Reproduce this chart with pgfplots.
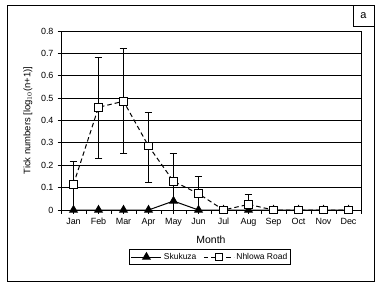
\documentclass[border=0pt]{standalone}
\usepackage{fontspec}
\setmainfont{Liberation Sans}
\usepackage{pgfplots}
\pgfplotsset{compat=1.18}
\begin{document}
\begin{tikzpicture}
\path[use as bounding box] (0bp,0bp) rectangle (383bp,-282bp);
\draw[line width=1bp] (7bp,-5bp) rectangle (374bp,-281bp);
\draw[line width=1bp] (353bp,-5bp) rectangle (374bp,-26bp);
\node[font=\fontsize{11}{13}\selectfont] at (363.5bp,-15.5bp) {a};
\begin{axis}[
  scale only axis, width=300bp, height=179bp,
  at={(61bp,-210bp)}, anchor=south west,
  xmin=-0.5, xmax=11.5, ymin=0, ymax=0.8,
  xtick={0,...,11},
  xticklabels={Jan,Feb,Mar,Apr,May,Jun,Jul,Aug,Sep,Oct,Nov,Dec},
  minor xtick={-0.5,0.5,...,11.5},
  ytick={0,0.1,0.2,0.3,0.4,0.5,0.6,0.7,0.8},
  yticklabels={0,0.1,0.2,0.3,0.4,0.5,0.6,0.7,0.8},
  xtick pos=bottom, ytick pos=left,
  tick align=outside,
  major tick length=3.5bp, minor tick length=3.5bp,
  tick style={black, line width=1bp},
  ymajorgrids, grid style={black, line width=1bp},
  axis line style={black, line width=1bp},
  /pgf/number format/assume math mode=true,
  ticklabel style={font=\fontsize{9}{10}\selectfont},
  xticklabel style={yshift=-1bp},
  yticklabel style={xshift=-0.5bp},
  xlabel={Month},
  xlabel style={font=\fontsize{10.5}{12}\selectfont, at={(axis description cs:0.5,-0.165)}, anchor=center},
  ylabel={Tick numbers [log$_{10}$(n+1)]},
  ylabel style={font=\fontsize{9.5}{11}\selectfont, at={(axis description cs:-0.11,0.5)}, anchor=center},
  legend columns=2,
  legend style={at={(axis description cs:0.497,-0.263)}, anchor=center,
    draw=black, line width=1bp, font=\fontsize{8.5}{10}\selectfont,
    inner sep=1.5bp, row sep=0bp,
    /tikz/every even column/.append style={column sep=5bp}},
  legend image code/.code={\draw[mark repeat=2,mark phase=2] plot coordinates {(0bp,0bp) (15bp,0bp) (30bp,0bp)};},
  clip=false,
]
% Skukuza
\addplot[black, line width=1bp, mark=triangle*, mark size=4.3bp, mark options={solid, fill=black}]
  coordinates {(0,0) (1,0) (2,0) (3,0) (4,0.04) (5,0) (6,0) (7,0) (8,0) (9,0) (10,0) (11,0)};
\addlegendentry{Skukuza}
% Nhlowa Road error bars
\addplot[draw=none, mark=none, forget plot,
  error bars/.cd, y dir=both, y explicit,
  error bar style={black, line width=1bp, solid},
  error mark options={rotate=90, mark size=3.8bp, black, line width=1bp}]
  coordinates {
   (0,0.115) += (0,0.101) -= (0,0.115)
   (1,0.459) += (0,0.222) -= (0,0.228)
   (2,0.486) += (0,0.235) -= (0,0.233)
   (3,0.286) += (0,0.151) -= (0,0.162)
   (4,0.128) += (0,0.125) -= (0,0.131)
   (5,0.073) += (0,0.078) -= (0,0.073)
   (7,0.025) += (0,0.045) -= (0,0.025)
  };
% Nhlowa Road
\addplot[black, line width=1bp, dash pattern=on 4.5bp off 3bp, mark=square*, mark size=3.9bp, mark options={solid, fill=white, line width=1bp}]
  coordinates {(0,0.115) (1,0.459) (2,0.486) (3,0.286) (4,0.128) (5,0.073) (6,0) (7,0.025) (8,0) (9,0) (10,0) (11,0)};
\addlegendentry{Nhlowa Road}
\end{axis}
\end{tikzpicture}
\end{document}
